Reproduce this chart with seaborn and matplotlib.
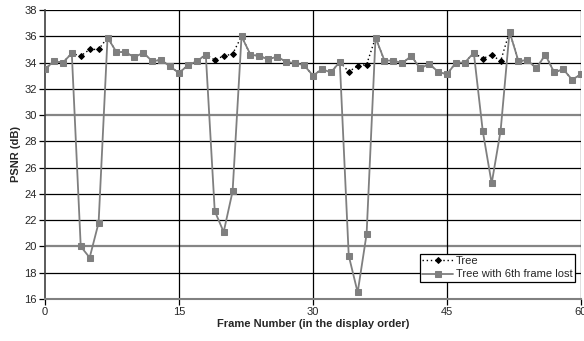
import numpy as np
import pandas as pd
import matplotlib
matplotlib.use("Agg")
import matplotlib.pyplot as plt
import seaborn as sns

frames = list(range(61))
tree = [33.5, 34.1, 34.0, 34.7, 34.5, 35.0, 35.0, 35.9, 34.8, 34.8,
        34.4, 34.75, 34.1, 34.2, 33.7, 33.2, 33.8, 34.1, 34.6, 34.2,
        34.5, 34.65, 36.0, 34.6, 34.5, 34.25, 34.45, 34.05, 33.95, 33.8,
        33.0, 33.5, 33.25, 34.05, 33.3, 33.75, 33.85, 35.9, 34.15, 34.15,
        33.95, 34.5, 33.55, 33.9, 33.3, 33.1, 34.0, 34.0, 34.75, 34.3,
        34.6, 34.1, 36.35, 34.1, 34.2, 33.55, 34.6, 33.25, 33.5, 32.7,
        33.1]
lost = list(tree)
lost[4:7] = [20.0, 19.15, 21.8]
lost[19:22] = [22.7, 21.1, 24.2]
lost[34:37] = [19.3, 16.5, 20.95]
lost[49:52] = [28.8, 24.8, 28.8]

xticks = [0, 15, 30, 45, 60]
yticks = list(range(16, 39, 2))

sns.set_theme(style="white")
plt.rcParams['font.family'] = ['Liberation Sans', 'DejaVu Sans']

fig = plt.figure(figsize=(5.84, 3.41), dpi=100)
ax = fig.add_axes([45/584, 1-299/341, (581-45)/584, (299-10)/341])

df = pd.DataFrame({"frame": frames, "tree": tree, "lost": lost})

# grid lines
for y in yticks:
    if y in (20, 30):
        ax.axhline(y, color="#858585", lw=1.6, zorder=0)
    else:
        ax.axhline(y, color="black", lw=0.9, zorder=0)
for x in xticks[1:]:
    ax.axvline(x, color="black", lw=0.9, zorder=0)

sns.lineplot(data=df, x="frame", y="tree", ax=ax, color="black", lw=1.0,
             linestyle=(0, (1, 2)), marker="D", markersize=3.0,
             markeredgecolor="black", markerfacecolor="black",
             label="Tree", zorder=2)
sns.lineplot(data=df, x="frame", y="lost", ax=ax, color="#7f7f7f", lw=1.3,
             marker="s", markersize=3.8, markeredgecolor="#7f7f7f",
             markerfacecolor="#7f7f7f", label="Tree with 6th frame lost",
             zorder=3)

ax.set_xlim(0, 60)
ax.set_ylim(16, 38)
ax.set_xticks(xticks)
ax.set_yticks(yticks)
ax.tick_params(axis="both", which="both", direction="out", length=4,
               width=0.9, color="black", labelsize=8, pad=2, left=True,
               bottom=True)
for s in ["top", "right"]:
    ax.spines[s].set_visible(False)
ax.spines["left"].set_color("#404040")
ax.spines["bottom"].set_color("#808080")
ax.spines["left"].set_linewidth(1.2)
ax.spines["bottom"].set_linewidth(1.5)

ax.set_xlabel("Frame Number (in the display order)", fontsize=8,
              fontweight="bold", labelpad=1)
ax.set_ylabel("PSNR (dB)", fontsize=8, fontweight="bold", labelpad=2)

leg = ax.legend(loc="lower right", bbox_to_anchor=(0.988, 0.06),
                fontsize=8, frameon=True, fancybox=False, framealpha=1,
                edgecolor="black", borderpad=0.2, labelspacing=0.3,
                handlelength=2.8, handletextpad=0.2, borderaxespad=0)
leg.get_frame().set_linewidth(0.9)

fig.savefig("out.png", dpi=100)
